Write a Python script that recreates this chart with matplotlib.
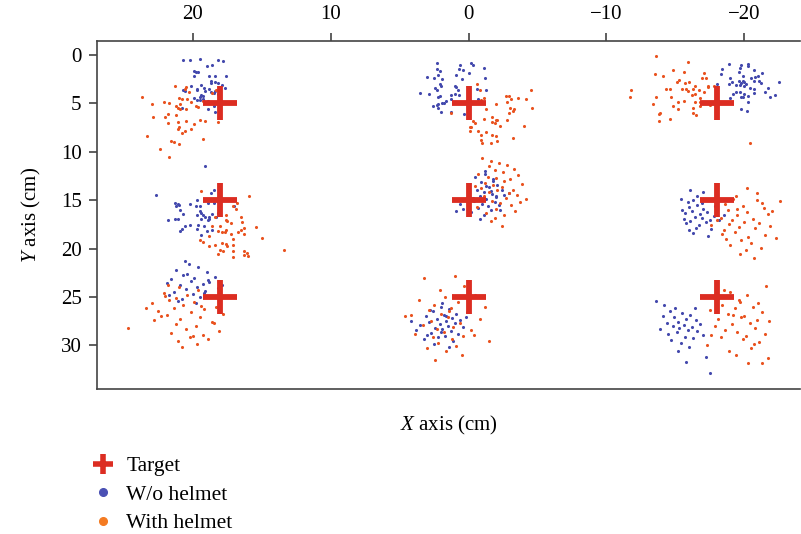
import numpy as np
import matplotlib
matplotlib.use("Agg")
import matplotlib.pyplot as plt
from matplotlib.lines import Line2D

plt.rcParams['font.family'] = 'Liberation Serif'
plt.rcParams['mathtext.fontset'] = 'custom'
plt.rcParams['mathtext.rm'] = 'Liberation Serif'
plt.rcParams['mathtext.it'] = 'Liberation Serif:italic'

# targets
target_x = [18, 0, -18, 18, 0, -18, 18, 0, -18]
target_y = [5, 5, 5, 15, 15, 15, 25, 25, 25]

# top row, read point by point (x, y)
wo_1 = [(20.7, 0.5), (20.2, 0.5), (19.5, 0.4), (18.2, 0.5), (17.8, 0.6), (19.0, 1.1), (18.6, 1.0),
        (19.9, 1.6), (19.8, 1.8), (19.6, 1.7), (19.9, 2.2), (18.8, 2.2), (18.4, 2.2), (17.6, 2.2),
        (18.7, 2.7), (18.7, 2.9), (18.4, 2.8), (18.2, 2.9), (17.9, 3.1), (17.7, 3.4), (20.1, 3.2),
        (19.7, 3.5), (19.7, 3.6), (19.4, 3.1), (19.2, 3.4), (20.7, 3.6), (20.6, 3.7), (19.1, 3.7),
        (18.8, 3.5), (18.7, 3.8), (18.5, 3.9), (18.4, 3.7), (18.2, 4.0), (19.4, 4.1), (19.3, 4.2),
        (19.5, 4.3), (19.9, 4.4), (19.7, 4.6), (19.5, 4.6), (19.3, 4.5), (18.9, 4.7), (20.8, 5.5),
        (18.9, 5.6), (18.4, 5.9), (18.5, 5.3)]
with_1 = [(21.3, 3.2), (20.5, 3.3), (20.6, 3.5), (20.3, 3.8), (21.0, 4.4), (20.8, 4.5), (20.4, 4.5),
          (23.7, 4.3), (22.1, 4.8), (21.7, 5.0), (23.0, 5.1), (20.9, 5.1), (21.2, 5.3), (21.1, 5.5),
          (20.9, 5.6), (20.5, 5.6), (20.1, 4.9), (19.8, 5.3), (19.6, 5.4), (19.3, 4.7), (18.6, 3.9),
          (18.3, 3.6), (18.0, 5.5), (21.8, 6.1), (22.0, 6.4), (22.9, 6.4), (21.2, 6.2), (21.1, 6.9),
          (20.5, 6.8), (21.8, 7.0), (19.9, 7.1), (19.5, 6.7), (19.1, 6.8), (21.0, 7.4), (21.1, 7.6),
          (20.6, 7.9), (20.8, 8.1), (20.1, 7.6), (18.2, 6.9), (23.3, 8.4), (21.6, 8.9), (21.4, 9.0),
          (21.0, 9.2), (19.3, 8.7), (22.4, 9.7), (21.7, 10.5), (18.0, 6.2)]

wo_2 = [(2.3, 0.8), (0.6, 1.0), (-0.2, 0.8), (-0.3, 1.0), (2.3, 1.4), (2.1, 1.6), (0.7, 1.4), (0.4, 1.5),
        (-1.1, 1.3), (0.0, 1.9), (0.9, 2.1), (2.2, 2.1), (3.0, 2.3), (2.5, 2.4), (1.9, 2.5), (0.5, 2.5),
        (-1.2, 2.4), (2.1, 3.0), (2.0, 3.2), (1.0, 3.2), (0.9, 3.3), (2.4, 3.4), (2.3, 3.6), (0.8, 3.6),
        (-0.6, 3.5), (-1.3, 3.6), (3.5, 3.9), (2.9, 4.0), (2.2, 4.3), (2.1, 4.2), (1.3, 4.1), (1.0, 4.0),
        (0.7, 4.1), (1.3, 4.5), (1.6, 4.7), (1.9, 5.0), (1.8, 5.0), (2.2, 5.1), (2.3, 5.2), (2.6, 5.3),
        (2.2, 5.5), (2.0, 5.9), (1.3, 5.9), (0.9, 4.8), (0.3, 6.1), (-0.7, 4.5)]
with_2 = [(-0.6, 3.0), (-0.8, 3.6), (-1.1, 4.4), (-0.9, 4.6), (-0.8, 5.0), (-1.3, 5.6), (-2.0, 5.1),
          (-2.7, 4.2), (-2.9, 4.2), (-3.1, 4.5), (-3.6, 4.4), (-4.2, 4.5), (-4.5, 3.6), (-2.8, 4.9),
          (-3.0, 5.5), (-3.3, 5.6), (-3.2, 5.8), (-2.9, 6.0), (-2.8, 6.7), (-4.6, 5.5), (1.3, 6.0),
          (-1.1, 6.6), (-0.3, 6.8), (-0.5, 7.0), (-1.7, 6.4), (-2.0, 6.7), (-2.1, 6.7), (-1.7, 6.9),
          (-1.9, 7.0), (-2.3, 7.3), (-0.1, 7.4), (-0.2, 7.4), (-0.1, 7.8), (-0.7, 7.8), (-1.3, 8.0),
          (-1.7, 8.3), (-2.0, 8.4), (-0.9, 8.3), (-0.9, 8.8), (-1.0, 9.1), (-2.1, 8.9), (-1.6, 9.1),
          (-3.2, 8.6), (-4.0, 7.3)]

wo_3 = [(-18.9, 0.9), (-19.8, 1.0), (-20.3, 0.9), (-20.3, 1.1), (-18.4, 1.4), (-19.7, 1.3), (-20.7, 1.5),
        (-19.6, 1.7), (-18.3, 2.0), (-21.3, 1.9), (-19.9, 2.2), (-20.5, 2.4), (-20.8, 2.3), (-21.0, 2.2),
        (-19.0, 2.4), (-19.6, 2.7), (-19.9, 2.7), (-20.0, 2.8), (-20.1, 3.0), (-19.8, 2.9), (-20.7, 2.7),
        (-21.1, 2.7), (-21.2, 2.9), (-22.5, 2.8), (-18.0, 3.0), (-18.9, 3.0), (-19.1, 2.8), (-19.4, 3.1),
        (-19.7, 3.1), (-20.0, 3.2), (-20.4, 3.4), (-20.7, 3.5), (-21.7, 3.4), (-19.4, 3.8), (-19.2, 4.0),
        (-19.7, 3.8), (-20.0, 4.0), (-20.3, 4.2), (-20.7, 3.9), (-21.5, 3.8), (-19.9, 4.3), (-19.8, 4.3),
        (-19.0, 4.4), (-21.9, 4.3), (-22.2, 4.1), (-20.3, 4.9), (-19.8, 5.6), (-20.2, 5.8)]
with_3 = [(-13.6, 0.1), (-15.9, 0.7), (-13.5, 2.0), (-14.8, 1.5), (-14.1, 2.2), (-15.6, 1.8), (-17.1, 1.9),
          (-15.1, 2.8), (-15.3, 2.6), (-15.7, 2.9), (-16.0, 2.8), (-16.9, 2.4), (-17.2, 2.4), (-16.4, 3.2),
          (-16.3, 3.5), (-17.4, 3.3), (-17.4, 3.2), (-17.8, 3.2), (-14.3, 3.5), (-14.6, 3.5), (-15.5, 3.5),
          (-15.8, 3.5), (-15.9, 3.7), (-16.7, 3.6), (-17.1, 3.8), (-11.8, 3.6), (-11.7, 4.3), (-13.6, 4.3),
          (-14.7, 4.3), (-16.2, 4.1), (-16.4, 4.0), (-16.8, 4.4), (-15.2, 4.8), (-15.6, 4.7), (-16.4, 4.8),
          (-16.8, 4.9), (-17.0, 5.0), (-17.5, 5.2), (-13.4, 5.1), (-14.8, 5.3), (-15.2, 5.6), (-16.3, 5.5),
          (-16.8, 5.3), (-13.9, 6.0), (-13.8, 6.1), (-16.3, 6.0), (-16.5, 6.2), (-14.6, 6.6), (-13.8, 6.8)]

wo_4 = [(19.1, 11.5), (22.7, 14.5), (21.3, 15.3), (21.1, 15.4), (21.0, 15.5), (21.2, 15.6), (20.2, 15.4),
        (19.8, 15.6), (19.7, 15.0), (18.7, 14.3), (18.5, 13.9), (19.5, 15.6), (18.9, 15.3), (18.5, 15.3),
        (19.5, 16.1), (19.4, 16.3), (19.7, 16.5), (19.3, 16.5), (19.1, 16.7), (18.8, 16.7), (18.6, 16.4),
        (18.2, 16.3), (20.9, 16.0), (20.7, 16.4), (21.3, 16.9), (21.8, 17.0), (21.1, 16.9), (20.6, 17.7),
        (20.2, 17.6), (20.8, 18.0), (20.9, 18.2), (19.6, 17.6), (19.2, 17.7), (19.4, 16.9), (18.8, 16.9),
        (19.7, 18.0), (19.0, 18.2), (18.6, 18.1), (19.4, 18.6), (17.0, 15.6), (18.3, 16.7), (18.9, 17.1)]
with_4 = [(19.4, 14.1), (15.9, 14.6), (17.1, 15.6), (16.8, 15.3), (16.9, 15.9), (18.4, 16.7), (17.6, 16.5),
          (16.5, 16.7), (17.6, 17.1), (17.5, 17.2), (17.2, 17.4), (16.4, 17.3), (18.6, 17.7), (18.0, 17.7),
          (15.4, 17.8), (16.3, 17.9), (17.6, 18.1), (18.2, 18.2), (17.9, 18.3), (17.7, 18.3), (16.7, 18.3),
          (16.5, 18.1), (17.2, 18.5), (16.3, 18.5), (18.8, 18.7), (15.0, 18.9), (19.5, 19.1), (19.3, 19.3),
          (17.1, 19.0), (17.9, 19.4), (17.6, 19.5), (17.5, 19.7), (18.8, 19.7), (18.4, 19.6), (17.1, 19.6),
          (18.0, 20.2), (17.8, 20.3), (17.1, 20.3), (16.3, 20.3), (16.1, 20.5), (16.0, 20.8), (16.3, 20.7),
          (18.2, 20.6), (17.1, 20.9), (13.4, 20.2)]

# remaining clusters, estimated
wo_5_x = [-1.2, -1.8, -0.9, -2.1, -1.5, -0.6, -2.4, -1.1, -1.7, -0.8, -2.0, -1.3, -0.4, -1.9, -1.0, -2.6, -1.4, -0.7,
          -1.6, -2.2, -0.2, 0.6, 0.9, -1.1, -1.8, -0.5, -2.9, -1.3, -0.9, -1.6, -2.3, -0.3, 0.4, -1.2, -2.0, -0.8]
wo_5_y = [12.3, 12.8, 13.1, 13.4, 13.6, 13.9, 14.0, 14.2, 14.4, 14.6, 14.7, 14.9, 15.1, 15.2, 15.4, 14.5, 15.6, 15.8,
          16.0, 15.5, 16.2, 15.4, 16.1, 16.5, 13.0, 12.6, 14.3, 13.5, 15.0, 14.1, 16.0, 14.8, 15.9, 12.0, 14.6, 16.9]
with_5_x = [-1.0, -1.6, -2.2, -2.8, -3.3, -1.9, -2.5, -0.7, -3.6, -1.4, -2.0, -3.0, -2.6, -1.2, -3.9, -1.8, -2.4, -0.9,
            -3.2, -2.1, -1.5, -2.9, -3.5, -1.1, -2.7, -4.2, -1.7, -2.3, -3.1, -0.6, -2.0, -3.4, -1.3, -2.6, -1.9, -3.7,
            -1.6, -2.4, -0.5, -1.5]
with_5_y = [10.6, 10.9, 11.2, 11.4, 11.8, 11.9, 12.1, 12.3, 12.4, 12.6, 12.7, 12.8, 13.0, 13.2, 13.3, 13.4, 13.6, 13.7,
            13.9, 14.0, 14.2, 14.3, 14.5, 14.6, 14.8, 14.9, 15.1, 15.3, 15.5, 15.7, 15.9, 16.1, 16.3, 16.5, 16.8, 15.2,
            17.2, 17.7, 13.5, 11.5]

wo_6_x = [-15.4, -15.9, -16.3, -16.0, -16.6, -17.0, -16.2, -15.7, -16.8, -17.3, -16.4, -15.6, -16.9, -17.5, -16.1, -15.8,
          -16.7, -17.2, -16.5, -16.0, -17.8, -16.3, -15.5, -16.9, -17.4, -16.6, -18.2, -17.9, -16.1, -17.0, -18.5, -17.6]
wo_6_y = [14.9, 15.2, 15.0, 15.7, 15.5, 15.9, 16.1, 16.3, 16.4, 16.2, 16.7, 16.9, 16.8, 17.1, 17.2, 17.4,
          17.6, 17.3, 17.9, 18.1, 16.6, 18.4, 16.0, 15.3, 18.7, 14.6, 17.0, 15.6, 13.9, 14.2, 16.5, 18.0]
with_6_x = [-20.4, -19.4, -18.6, -20.9, -19.9, -21.3, -18.8, -20.2, -19.5, -21.7, -18.3, -20.6, -19.1, -22.0, -20.0,
            -18.9, -21.1, -19.6, -20.8, -18.5, -22.6, -19.3, -21.5, -20.3, -18.0, -19.8, -21.9, -20.5, -19.0, -21.2,
            -18.7, -20.1, -19.7, -22.3, -20.7, -18.4, -21.4, -19.2, -20.9, -20.2, -17.6, -19.5]
with_6_y = [9.1, 14.6, 15.4, 15.0, 15.6, 15.3, 16.0, 16.2, 16.5, 16.4, 16.8, 16.9, 17.1, 16.1, 17.3,
            17.5, 17.4, 17.8, 17.9, 18.1, 15.1, 18.3, 18.6, 18.8, 17.0, 19.1, 17.7, 19.4, 19.6, 19.9,
            19.0, 20.2, 20.6, 18.9, 21.0, 18.5, 15.8, 14.9, 14.3, 13.7, 17.6, 15.9]

wo_7_x = [20.3, 19.6, 21.2, 19.0, 20.7, 18.4, 19.9, 21.6, 20.1, 18.8, 19.3, 20.9, 21.9, 19.7, 18.2,
          20.5, 19.1, 21.4, 20.0, 18.6, 19.5, 20.8, 21.1, 19.8, 18.9, 20.4, 19.2, 21.7, 17.9, 20.6]
wo_7_y = [21.6, 21.9, 22.2, 22.4, 22.7, 22.9, 23.0, 23.2, 23.4, 23.5, 23.7, 23.8, 23.6, 24.0, 24.1,
          24.2, 24.4, 24.5, 24.7, 24.9, 25.0, 25.2, 25.4, 25.6, 23.3, 22.6, 24.6, 24.8, 23.8, 21.3]
with_7_x = [21.0, 19.6, 22.1, 20.4, 18.8, 21.7, 19.9, 23.0, 20.7, 18.3, 21.4, 19.2, 22.5, 20.1, 17.8, 21.9, 19.5, 20.9,
            22.8, 18.6, 21.2, 19.8, 24.7, 20.5, 18.1, 21.6, 19.3, 22.3, 20.2, 18.9, 21.1, 19.7, 23.4, 20.8, 21.2, 19.4,
            20.0, 22.0, 18.5, 21.8]
with_7_y = [24.0, 24.3, 24.6, 24.8, 25.0, 25.3, 25.5, 25.6, 25.8, 26.0, 26.1, 26.3, 26.5, 26.6, 26.8, 26.9, 27.1, 27.3,
            27.4, 27.6, 27.8, 28.0, 28.2, 28.3, 28.5, 28.7, 28.9, 27.0, 29.2, 29.4, 29.6, 29.9, 26.2, 30.2, 25.1, 25.9,
            29.0, 24.9, 27.7, 23.8]

wo_8_x = [2.0, 1.4, 2.6, 0.9, 1.8, 3.1, 1.2, 2.3, 0.6, 1.6, 2.9, 1.0, 2.1, 3.5, 1.5, 0.4, 2.4, 1.9,
          3.8, 1.3, 2.7, 0.8, 1.7, 2.2, 3.2, 1.1, 2.5, 0.2, 1.9, 2.8, 1.4, 4.2, 2.0, 1.6, 3.0]
wo_8_y = [26.0, 26.3, 26.5, 26.8, 26.9, 27.0, 27.2, 27.3, 27.4, 27.5, 27.6, 27.7, 27.8, 27.9, 28.0, 28.1, 28.2, 28.3,
          28.4, 28.5, 28.7, 28.8, 29.0, 29.2, 29.4, 29.6, 29.9, 27.1, 25.6, 26.4, 30.2, 27.5, 28.6, 27.0, 28.9]
with_8_x = [1.0, 3.2, 0.3, 2.1, -0.5, 1.7, 3.6, 0.8, 2.5, -1.2, 1.3, 2.9, 0.1, 2.0, 4.2, 1.5, -0.8, 2.7, 0.6,
            3.3, 1.1, 2.3, -0.2, 1.8, 3.9, 0.4, 2.6, 1.2, -1.5, 2.2, 0.9, 3.0, 1.6, 0.5, 2.4, 4.6, 1.4, -0.4]
with_8_y = [22.8, 23.1, 23.9, 24.3, 24.8, 25.0, 25.3, 25.5, 25.8, 26.0, 26.2, 26.4, 26.6, 26.8, 26.9, 27.1, 27.3, 27.5,
            27.7, 27.9, 28.1, 28.3, 28.4, 28.6, 28.8, 29.0, 29.2, 29.4, 29.6, 29.8, 30.1, 30.3, 30.6, 31.0, 31.5, 27.0,
            26.5, 28.9]

wo_9_x = [-13.6, -14.2, -15.0, -14.6, -15.5, -16.1, -14.9, -15.8, -16.5, -15.2, -14.4, -16.8, -15.6, -14.8, -16.2, -15.3,
          -13.9, -15.9, -16.6, -15.1, -14.5, -17.0, -15.7, -16.3, -14.7, -15.4, -16.0, -15.2, -17.2, -14.1, -15.8, -16.4,
          -17.5]
wo_9_y = [25.4, 25.8, 26.1, 26.5, 26.7, 26.9, 27.1, 27.3, 27.4, 27.6, 27.7, 27.8, 27.9, 28.0, 28.1, 28.2,
          28.3, 28.4, 28.5, 28.6, 28.8, 28.9, 29.1, 29.3, 29.5, 29.8, 30.2, 30.6, 31.2, 27.0, 31.7, 26.2,
          32.9]
with_9_x = [-21.6, -19.0, -20.2, -17.8, -19.6, -21.0, -18.4, -20.6, -19.3, -17.5, -21.3, -18.8, -20.0, -19.8, -18.1,
            -21.8, -20.4, -19.1, -17.9, -20.8, -18.6, -19.5, -21.5, -20.1, -18.3, -19.9, -21.1, -17.3, -20.5, -18.9,
            -19.4, -21.7, -20.3, -21.3, -19.7, -20.9, -17.6, -19.2, -20.7, -18.5]
with_9_y = [23.9, 24.5, 24.8, 25.1, 25.3, 25.6, 25.8, 26.0, 26.2, 26.4, 26.6, 26.8, 27.0, 27.1, 27.3,
            27.5, 27.7, 27.8, 28.0, 28.2, 28.4, 28.6, 28.8, 29.0, 29.2, 29.4, 29.7, 30.0, 30.3, 30.6,
            31.0, 31.3, 31.8, 31.8, 25.5, 27.4, 28.9, 26.9, 29.9, 24.3]

xticks = [20, 10, 0, -10, -20]
yticks = [0, 5, 10, 15, 20, 25, 30]

blue = '#4349ad'
orange = '#e9521f'
red = '#dc2d22'

wo_pairs = np.array(wo_1 + wo_2 + wo_3 + wo_4)
with_pairs = np.array(with_1 + with_2 + with_3 + with_4)
wo_x = np.concatenate([wo_pairs[:, 0], wo_5_x, wo_6_x, wo_7_x, wo_8_x, wo_9_x])
wo_y = np.concatenate([wo_pairs[:, 1], wo_5_y, wo_6_y, wo_7_y, wo_8_y, wo_9_y])
with_x = np.concatenate([with_pairs[:, 0], with_5_x, with_6_x, with_7_x, with_8_x, with_9_x])
with_y = np.concatenate([with_pairs[:, 1], with_5_y, with_6_y, with_7_y, with_8_y, with_9_y])

fig = plt.figure(figsize=(8.01, 5.34), dpi=100)
ax = fig.add_axes([0.121, 0.272, 0.878, 0.652])

ax.scatter(wo_x, wo_y, s=5, color=blue, linewidths=0)
ax.scatter(with_x, with_y, s=5, color=orange, linewidths=0)
ax.plot(target_x, target_y, ls='none', marker='+', ms=24, mew=4.2, color=red)

ax.set_xlim(26.96, -24.06)
ax.set_ylim(34.5, -1.5)
ax.xaxis.tick_top()
ax.set_xticks(xticks)
ax.set_yticks(yticks)
ax.tick_params(axis='x', top=True, bottom=False, direction='out', length=6, width=1.1,
               labelsize=15, pad=6, color='#333333')
ax.tick_params(axis='y', direction='out', length=6, width=1.1, labelsize=15, pad=5, color='#333333')
for side in ['left', 'top', 'bottom']:
    ax.spines[side].set_linewidth(1.2)
    ax.spines[side].set_color('#444444')
ax.spines['right'].set_visible(False)

ax.set_xlabel(r'$X$ axis (cm)', fontsize=15, labelpad=18)
ax.set_ylabel(r'$Y$ axis (cm)', fontsize=15, labelpad=13)

handles = [Line2D([], [], ls='none', marker='+', ms=14, mew=4, color=red),
           Line2D([], [], ls='none', marker='o', ms=5.5, color='#4a50b4'),
           Line2D([], [], ls='none', marker='o', ms=5.5, color='#f47b22')]
fig.legend(handles, ['Target', 'W/o helmet', 'With helmet'], loc='upper left',
           bbox_to_anchor=(0.116, 0.146), frameon=False, fontsize=15.5,
           handlelength=0.95, handletextpad=0.6, labelspacing=0.4,
           borderpad=0, borderaxespad=0)

fig.savefig('out.png', dpi=100)
